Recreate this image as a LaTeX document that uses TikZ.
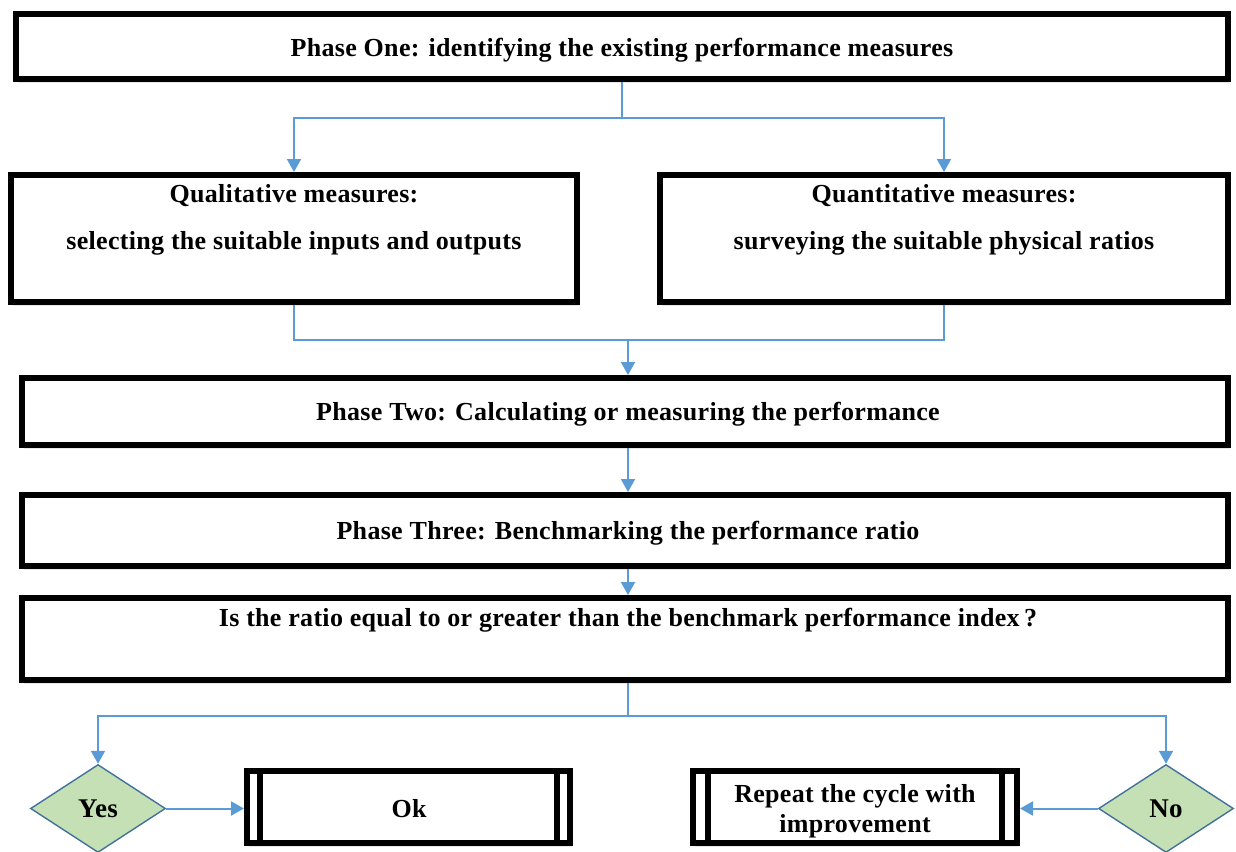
\documentclass[tikz,border=0pt]{standalone}
\usepackage{fontspec}
\setmainfont{Liberation Serif}[LetterSpace=1.2]
\usetikzlibrary{arrows.meta,shapes.geometric,shadows}
\definecolor{lineblue}{RGB}{91,155,213}
\definecolor{diafill}{RGB}{197,224,180}
\definecolor{diaborder}{RGB}{65,113,156}
\begin{document}
\begin{tikzpicture}[x=0.5pt,y=-0.5pt,
  box/.style={draw=black,line width=3pt,fill=white,inner sep=0pt,
    drop shadow={opacity=0.18,shadow xshift=1.2pt,shadow yshift=-1.8pt}},
  conn/.style={draw=lineblue,line width=1pt},
  arr/.style={conn,-{Triangle[length=6.5pt,width=7pt]}},
  txt/.style={font=\fontsize{13}{15}\selectfont\bfseries,inner sep=0pt,align=center},
  dec/.style={diamond,draw=diaborder,line width=0.7pt,fill=diafill,inner sep=0pt,
    minimum width=67.5pt,minimum height=44pt,font=\fontsize{13.5}{16}\selectfont\bfseries},
  bar/.style={draw=black,line width=3pt}]
\useasboundingbox (0,0) rectangle (1236,851);

% boxes
\node[box,minimum width=606pt,minimum height=32.5pt] (p1) at (622,46.5) {};
\node[txt] (p1t) at (622,50) {Phase One: identifying the existing performance measures};

\node[box,minimum width=283pt,minimum height=63.5pt] (ql) at (294,238.5) {};
\node[txt] (qlt) at (294,219.5) {Qualitative measures:\\[8.5pt]selecting the suitable inputs and outputs};

\node[box,minimum width=284pt,minimum height=63.5pt] (qn) at (944,238.5) {};
\node[txt] (qnt) at (944,219.5) {Quantitative measures:\\[8.5pt]surveying the suitable physical ratios};

\node[box,minimum width=603pt,minimum height=33.5pt] (p2) at (625,411.5) {};
\node[txt] (p2t) at (628,414) {Phase Two: Calculating or measuring the performance};

\node[box,minimum width=603pt,minimum height=35.5pt] (p3) at (625,530.5) {};
\node[txt] (p3t) at (628,533) {Phase Three: Benchmarking the performance ratio};

\node[box,minimum width=603pt,minimum height=41pt] (q) at (625,639) {};
\node[txt] (qt) at (628,620) {Is the ratio equal to or greater than the benchmark performance index\,?};

\node[box,minimum width=161.5pt,minimum height=36pt] (ok) at (408.5,807) {};
\draw[bar] ([xshift=8pt]ok.north west) -- ([xshift=8pt]ok.south west);
\draw[bar] ([xshift=-8pt]ok.north east) -- ([xshift=-8pt]ok.south east);
\node[txt] (okt) at (409,809) {Ok};

\node[box,minimum width=162pt,minimum height=36pt] (rep) at (855,807) {};
\draw[bar] ([xshift=9pt]rep.north west) -- ([xshift=9pt]rep.south west);
\draw[bar] ([xshift=-9pt]rep.north east) -- ([xshift=-9pt]rep.south east);
\node[txt,font=\fontsize{13}{15}\selectfont\bfseries] (rept) at (855,811) {Repeat the cycle with\\improvement};

\node[dec] (yes) at (98,808.5) {Yes};
\node[dec] (no) at (1166,808.5) {No};

% connectors
\coordinate (j1) at (622,118);
\draw[conn] (p1.south) -- (j1);
\draw[arr] (j1) -| (ql.north);
\draw[arr] (j1) -| (qn.north);

\coordinate (j2) at (628,340);
\draw[conn] (ql.south) |- (j2);
\draw[conn] (qn.south) |- (j2);
\draw[arr] (j2) -- (j2 |- p2.north);
\draw[arr] (p2.south -| j2) -- (p3.north -| j2);
\draw[arr] (p3.south -| j2) -- (q.north -| j2);

\coordinate (j3) at (628,716);
\draw[conn] (q.south -| j3) -- (j3);
\draw[arr] (j3) -| (yes.north);
\draw[arr] (j3) -| (no.north);
\draw[arr] (yes.east) -- (yes.east -| ok.west);
\draw[arr] (no.west) -- (no.west -| rep.east);
\end{tikzpicture}
\end{document}
